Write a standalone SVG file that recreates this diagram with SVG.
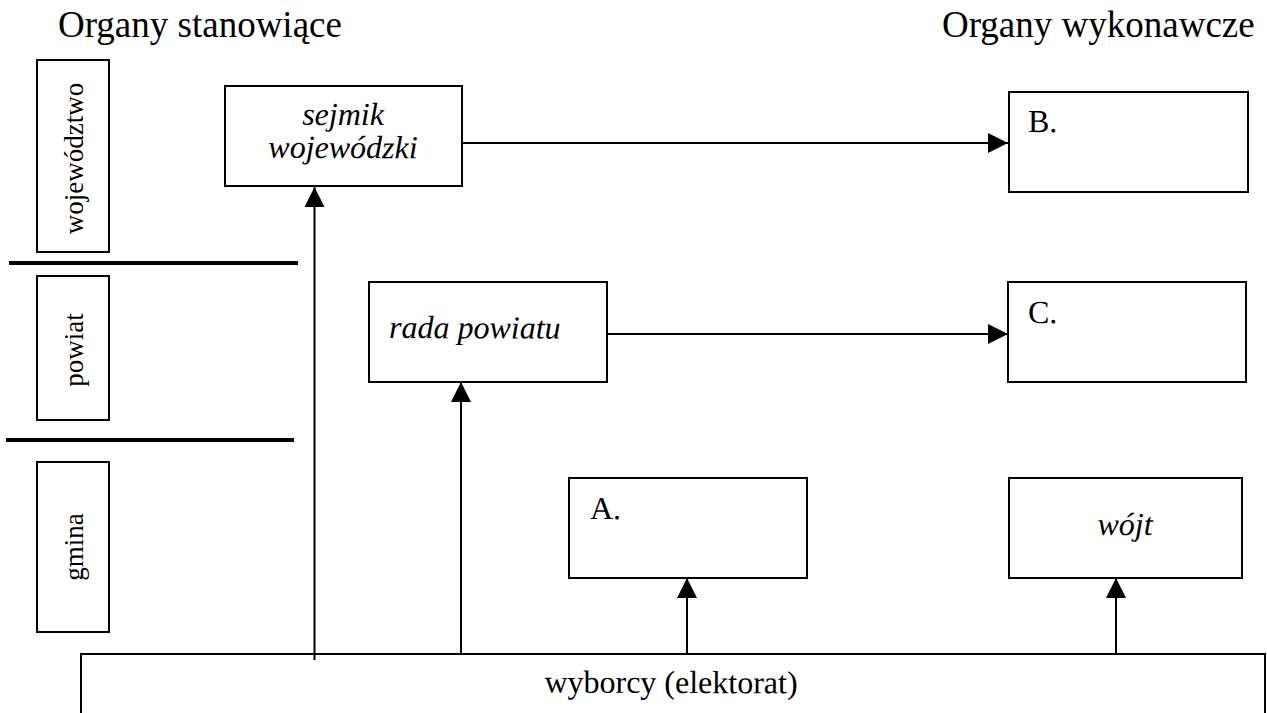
<svg xmlns="http://www.w3.org/2000/svg" width="1267" height="713" viewBox="0 0 1267 713">
<style>
.box{fill:#fff;stroke:#000;stroke-width:2}
.sep{stroke:#000;stroke-width:4}
.con{stroke:#000;stroke-width:2;fill:none}
text{font-family:"Liberation Serif","Times New Roman","DejaVu Serif",serif;fill:#000}
.hd{font-size:37px}
.vl{font-size:27px}
.lbl{font-size:32px}
.it{font-style:italic}
</style>
<defs>
<marker id="ah" markerUnits="userSpaceOnUse" markerWidth="20" markerHeight="20" refX="20" refY="10" orient="auto">
<path d="M0,0 L20,10 L0,20 z" fill="#000"/>
</marker>
</defs>
<rect width="1267" height="713" fill="#fff"/>
<g id="headings">
<text class="hd" x="58" y="37">Organy stanowiące</text>
<text class="hd" x="942" y="37">Organy wykonawcze</text>
</g>
<g id="levels">
<g id="level-wojewodztwo">
<rect class="box" x="37" y="60" width="72" height="192"/>
<text class="vl" x="83" y="158.5" text-anchor="middle" transform="rotate(-90 83 158.5)">województwo</text>
</g>
<g id="level-powiat">
<rect class="box" x="37" y="276" width="72" height="144"/>
<text class="vl" x="83" y="350" text-anchor="middle" transform="rotate(-90 83 350)">powiat</text>
</g>
<g id="level-gmina">
<rect class="box" x="37" y="462" width="72" height="170"/>
<text class="vl" x="83" y="547" text-anchor="middle" transform="rotate(-90 83 547)">gmina</text>
</g>
<line class="sep" x1="9" y1="263" x2="298" y2="263"/>
<line class="sep" x1="6" y1="440" x2="294" y2="440"/>
</g>
<g id="connectors">
<line class="con" x1="314.5" y1="660" x2="314.5" y2="187" marker-end="url(#ah)"/>
<line class="con" x1="461" y1="654" x2="461" y2="382" marker-end="url(#ah)"/>
<line class="con" x1="687" y1="654" x2="687" y2="578" marker-end="url(#ah)"/>
<line class="con" x1="1116" y1="654" x2="1116" y2="578" marker-end="url(#ah)"/>
<line class="con" x1="463" y1="143" x2="1008" y2="143" marker-end="url(#ah)"/>
<line class="con" x1="608" y1="334" x2="1008" y2="334" marker-end="url(#ah)"/>
</g>
<g id="node-sejmik">
<rect class="box" x="225" y="86" width="237" height="100"/>
<text class="lbl it" x="343" y="125" text-anchor="middle" transform="rotate(0.2 343 125)">sejmik</text>
<text class="lbl it" x="343" y="158" text-anchor="middle" transform="rotate(0.2 343 158)">wojewódzki</text>
</g>
<g id="node-B">
<rect class="box" x="1009" y="92" width="239" height="100"/>
<text class="lbl" x="1028" y="132" transform="rotate(0.2 1028 132)">B.</text>
</g>
<g id="node-rada">
<rect class="box" x="369" y="282" width="238" height="100"/>
<text class="lbl it" x="389" y="338" transform="rotate(0.2 389 338)">rada powiatu</text>
</g>
<g id="node-C">
<rect class="box" x="1008" y="282" width="238" height="100"/>
<text class="lbl" x="1028" y="323" transform="rotate(0.2 1028 323)">C.</text>
</g>
<g id="node-A">
<rect class="box" x="569" y="478" width="238" height="100"/>
<text class="lbl" x="590" y="519" transform="rotate(0.2 590 519)">A.</text>
</g>
<g id="node-wojt">
<rect class="box" x="1009" y="478" width="233" height="100"/>
<text class="lbl it" x="1125" y="535" text-anchor="middle" transform="rotate(0.2 1125 535)">wójt</text>
</g>
<g id="node-wyborcy">
<path class="con" d="M81,720 V654 H1265 V720"/>
<text class="lbl" x="671" y="693" text-anchor="middle" transform="rotate(0.2 671 693)">wyborcy (elektorat)</text>
</g>
</svg>
